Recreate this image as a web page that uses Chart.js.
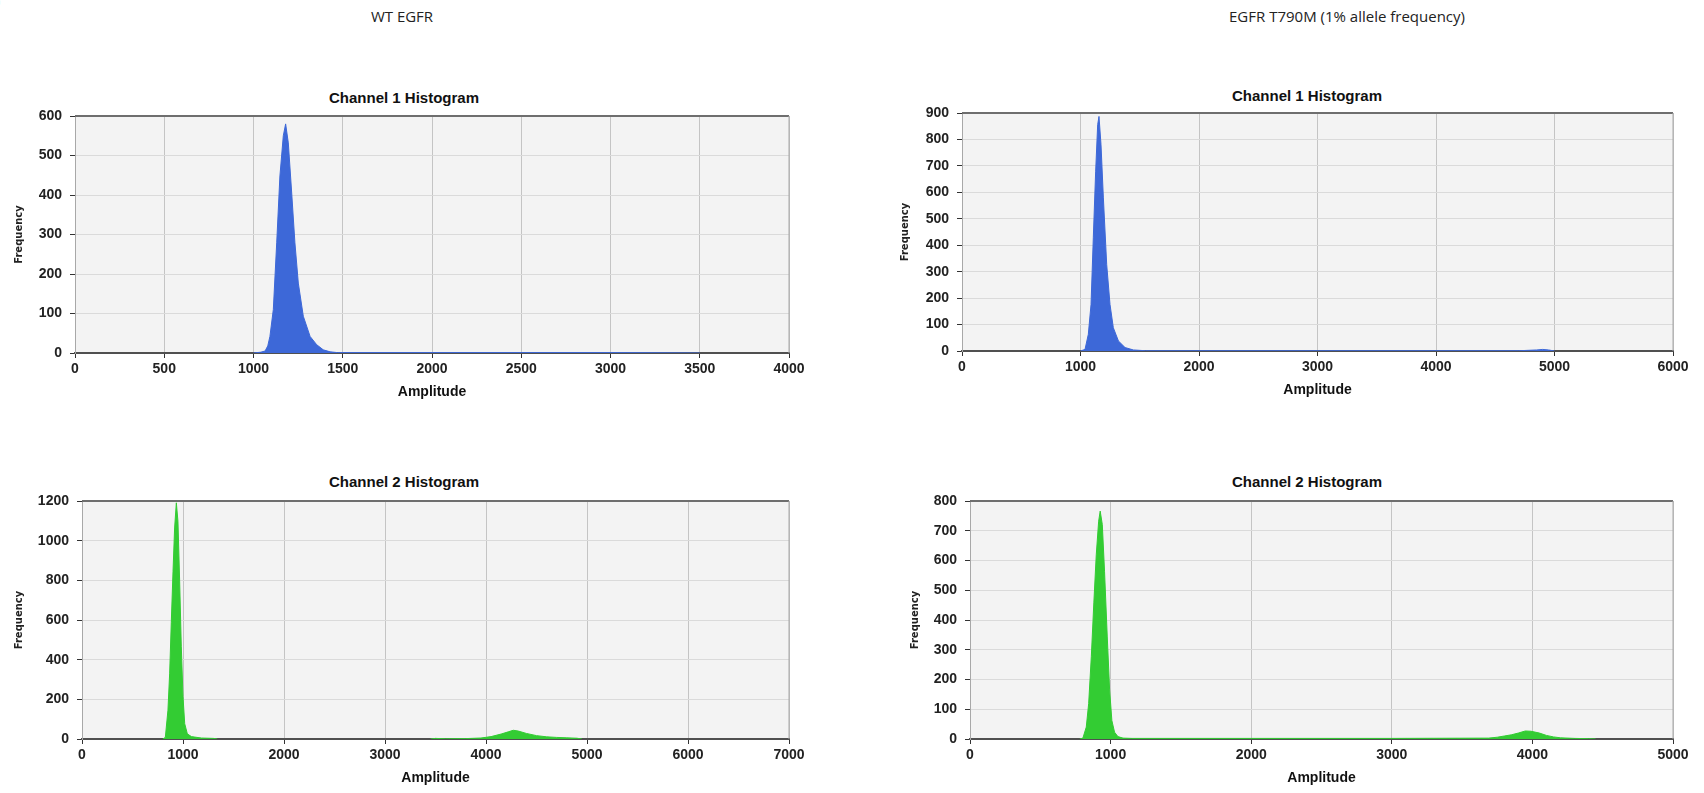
<!DOCTYPE html>
<html>
<head>
<meta charset="utf-8">
<script src="https://cdn.jsdelivr.net/npm/chart.js@4.4.1/dist/chart.umd.min.js"></script>
<style>
  body { margin: 0; width: 1704px; height: 793px; background: #fff; position: relative; overflow: hidden; font-family: "Open Sans", sans-serif; }
  .box { position: absolute; }
  .head { position: absolute; font-size: 15px; color: #222; transform: translate(-50%, -50%); white-space: nowrap; }
  .ttl { position: absolute; font: bold 15px "Liberation Sans Narrow", "Liberation Sans", Arial, sans-serif; color: #111; transform: translate(-50%, -50%); white-space: nowrap; }
  .frag { position: absolute; left: -5px; top: -12px; font-size: 18px; color: #222; }
</style>
</head>
<body>
<div class="frag">)</div>
<div class="head" style="left:402px; top:16px">WT EGFR</div>
<div class="head" style="left:1347px; top:16px">EGFR T790M (1% allele frequency)</div>

<div class="ttl" style="left:404px; top:97px">Channel 1 Histogram</div>
<div class="ttl" style="left:1307px; top:95px">Channel 1 Histogram</div>
<div class="ttl" style="left:404px; top:481px">Channel 2 Histogram</div>
<div class="ttl" style="left:1307px; top:481px">Channel 2 Histogram</div>

<div class="box" style="left:0px; top:90px; width:808px; height:311px"><canvas id="wtCh1"></canvas></div>
<div class="box" style="left:890px; top:88px; width:805px; height:311px"><canvas id="mutCh1"></canvas></div>
<div class="box" style="left:0px; top:475px; width:808px; height:312px"><canvas id="wtCh2"></canvas></div>
<div class="box" style="left:890px; top:475px; width:805px; height:312px"><canvas id="mutCh2"></canvas></div>

<script>
// WT EGFR, channel 1 (amplitude bin -> count)
const wtCh1Amp  = [1000, 1040, 1065, 1080, 1092, 1111, 1130, 1148, 1167, 1180, 1195, 1214, 1232, 1251, 1279, 1317, 1354, 1391, 1429, 1470, 2000, 2500, 3000, 3500];
const wtCh1Freq = [0, 2, 5, 18, 42, 110, 279, 448, 550, 580, 532, 405, 279, 177, 93, 42, 21, 8, 3, 1, 1, 1, 1, 0];

// EGFR T790M, channel 1
const mutCh1Amp  = [1000, 1038, 1066, 1089, 1108, 1128, 1145, 1156, 1173, 1193, 1221, 1249, 1277, 1320, 1376, 1446, 1550, 2000, 3000, 4000, 4700, 4850, 4900, 4950, 5000];
const mutCh1Freq = [0, 6, 63, 176, 428, 680, 856, 887, 780, 579, 327, 176, 88, 38, 13, 4, 1, 1, 1, 1, 1, 4, 6, 4, 0];

// WT EGFR, channel 2 (null breaks the trace between the two clusters)
const wtCh2Amp  = [800, 825, 851, 868, 884, 901, 917, 934, 950, 967, 983, 1000, 1017, 1043, 1083, 1182, 1300, 1340, 2400,
                   3450, 3500, 3600, 3800, 3950, 4050, 4150, 4220, 4270, 4320, 4400, 4500, 4600, 4700, 4800, 4900, 4950];
const wtCh2Freq = [0, 8, 145, 332, 587, 843, 1064, 1191, 1098, 792, 468, 213, 77, 26, 12, 5, 3, 0, null,
                   0, 3, 1, 2, 5, 12, 25, 36, 44, 40, 28, 17, 11, 8, 6, 4, 0];

// EGFR T790M, channel 2
const mutCh2Amp  = [780, 803, 827, 844, 863, 881, 898, 915, 926, 941, 957, 976, 993, 1009, 1028, 1052, 1088, 1150, 2000, 3000,
                    3690, 3750, 3800, 3850, 3900, 3950, 3990, 4050, 4100, 4150, 4200, 4300, 4400, 4450];
const mutCh2Freq = [0, 3, 40, 119, 278, 460, 619, 732, 766, 721, 562, 346, 165, 62, 23, 8, 3, 2, 2, 2,
                    3, 6, 10, 14, 20, 27, 26, 20, 12, 7, 4, 2, 1, 0];

const BLUE = '#3d68d8';
const GREEN = '#33cc33';

const tickFont = { family: "'Liberation Sans Narrow', 'Liberation Sans', Arial, sans-serif", size: 14, weight: 'bold', lineHeight: 1.2 };
const freqFont = { family: "'DejaVu Sans', Verdana, sans-serif", size: 10, weight: 'bold', lineHeight: 1.2 };

// grey plot background + top/right frame lines
const plotFrame = {
  id: 'plotFrame',
  beforeDraw(chart) {
    const { ctx, chartArea: a } = chart;
    ctx.save();
    ctx.fillStyle = '#f3f3f3';
    ctx.fillRect(a.left, a.top, a.right - a.left, a.bottom - a.top);
    ctx.restore();
  },
  afterDraw(chart) {
    const { ctx, chartArea: a } = chart;
    ctx.save();
    ctx.strokeStyle = '#6e6e6e';
    ctx.lineWidth = 2;
    ctx.beginPath(); ctx.moveTo(a.left, a.top); ctx.lineTo(a.right, a.top); ctx.stroke();
    ctx.strokeStyle = '#a8a8a8';
    ctx.lineWidth = 1;
    ctx.beginPath(); ctx.moveTo(a.right, a.top); ctx.lineTo(a.right, a.bottom); ctx.stroke();
    ctx.restore();
  }
};

function makeHistogram(id, amps, freqs, color, xMax, xStep, yMax, yStep, frame) {
  const points = amps.map((a, i) => ({ x: a, y: freqs[i] }));
  return new Chart(document.getElementById(id), {
    type: 'line',
    data: {
      datasets: [{
        data: points, borderColor: color, backgroundColor: color, borderWidth: 1,
        fill: 'origin', pointRadius: 0, tension: 0, spanGaps: false
      }]
    },
    options: {
      responsive: true, maintainAspectRatio: false, animation: false,
      layout: { padding: { top: frame.padTop, left: 0, right: 0, bottom: 0 } },
      plugins: { legend: { display: false }, tooltip: { enabled: false } },
      scales: {
        x: {
          type: 'linear', min: 0, max: xMax,
          ticks: { stepSize: xStep, autoSkip: false, maxRotation: 0, font: tickFont, color: '#222', padding: 3, callback: v => String(v) },
          grid: { color: '#c4c4c4', lineWidth: 1, tickColor: '#333', tickLength: 5 },
          border: { color: '#505050', width: 2 },
          title: { display: true, text: 'Amplitude', font: tickFont, color: '#111', padding: 0 },
          afterFit: s => { s.height = frame.xHeight; s.paddingRight = frame.padRight; }
        },
        y: {
          min: 0, max: yMax,
          ticks: { stepSize: yStep, font: tickFont, color: '#222', padding: 8, callback: v => String(v) },
          grid: { color: '#dadada', lineWidth: 1, tickColor: '#333', tickLength: 5 },
          border: { color: '#a8a8a8', width: 1 },
          title: { display: true, text: 'Frequency', font: freqFont, color: '#222', padding: { top: frame.freqPad, bottom: 0 } },
          afterFit: s => { s.width = frame.yWidth; }
        }
      }
    },
    plugins: [plotFrame]
  });
}

makeHistogram('wtCh1', wtCh1Amp, wtCh1Freq, BLUE, 4000, 500, 600, 100,
  { padTop: 26, yWidth: 75, xHeight: 48, padRight: 19, freqPad: 13.5 });
makeHistogram('mutCh1', mutCh1Amp, mutCh1Freq, BLUE, 6000, 1000, 900, 100,
  { padTop: 25, yWidth: 72, xHeight: 48, padRight: 22, freqPad: 9 });
makeHistogram('wtCh2', wtCh2Amp, wtCh2Freq, GREEN, 7000, 1000, 1200, 200,
  { padTop: 26, yWidth: 82, xHeight: 48, padRight: 19, freqPad: 13.5 });
makeHistogram('mutCh2', mutCh2Amp, mutCh2Freq, GREEN, 5000, 1000, 800, 100,
  { padTop: 26, yWidth: 80, xHeight: 48, padRight: 22, freqPad: 19 });
</script>
</body>
</html>
